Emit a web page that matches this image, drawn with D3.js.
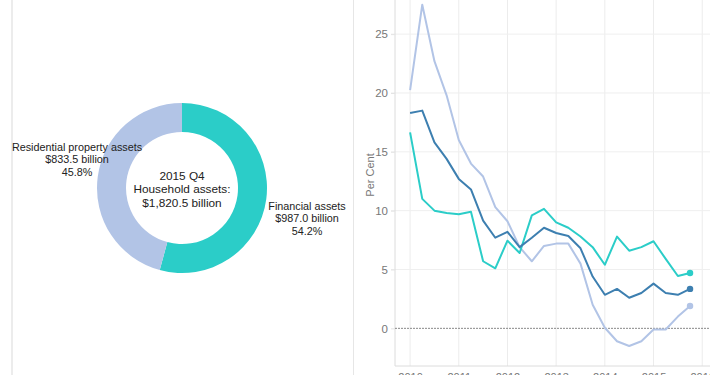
<!DOCTYPE html>
<html>
<head>
<meta charset="utf-8">
<script src="https://cdn.jsdelivr.net/npm/d3@7"></script>
<style>
  body { margin: 0; background: #fff; }
  svg { display: block; font-family: "Liberation Sans", Arial, sans-serif; }
</style>
</head>
<body>
<div id="chart"></div>
<script>
// donut data (2015 Q4, $ billion)
const assetNames = ["Financial assets", "Residential property assets"];
const assetValues = [987.0, 833.5];
const assetShares = ["54.2%", "45.8%"];
const assetTotal = "$1,820.5 billion";
const assetPeriod = "2015 Q4";

// quarterly growth, per cent, 2010 Q1 .. 2015 Q4
const quarters = d3.range(24).map(i => 2010 + i / 4);
const totalGrowth = [18.3, 18.5, 15.8, 14.4, 12.7, 11.8, 9.15, 7.7, 8.2, 6.9, 7.7, 8.55,
  8.1, 7.85, 6.8, 4.4, 2.85, 3.35, 2.6, 3.0, 3.8, 3.0, 2.85, 3.35];
const financialGrowth = [16.65, 11.0, 10.0, 9.8, 9.7, 9.9, 5.7, 5.1, 7.45, 6.4, 9.6, 10.15,
  9.0, 8.55, 7.8, 6.9, 5.4, 7.8, 6.6, 6.9, 7.4, 5.9, 4.45, 4.7];
const residentialGrowth = [20.25, 27.5, 22.7, 19.8, 16.0, 14.0, 12.9, 10.3, 9.1, 6.9, 5.7, 7.0,
  7.2, 7.2, 5.5, 2.0, 0.05, -1.1, -1.5, -1.1, -0.1, -0.1, 1.0, 1.9];
const yearTicks = [2010, 2011, 2012, 2013, 2014, 2015, 2016];
const yTicks = [0, 5, 10, 15, 20, 25];

const colTeal = "#2bcdc8";
const colLight = "#b2c4e6";
const colDark = "#3d7fb0";

const width = 710, height = 375;
const svg = d3.select("#chart").append("svg")
  .attr("width", width).attr("height", height);

// panel borders
svg.append("line").attr("x1", 12).attr("x2", 12).attr("y1", 0).attr("y2", height)
  .attr("stroke", "#ececec").attr("stroke-width", 2);
svg.append("line").attr("x1", 353.5).attr("x2", 353.5).attr("y1", 0).attr("y2", height)
  .attr("stroke", "#e6e6e6").attr("stroke-width", 1);

// ---- donut ----
const cx = 182, cy = 188;
const outerRadius = 85, innerRadius = 56;
const pie = d3.pie().sort(null).value(d => d);
const arc = d3.arc().innerRadius(innerRadius).outerRadius(outerRadius);
const donut = svg.append("g").attr("transform", `translate(${cx},${cy})`);
donut.selectAll("path").data(pie(assetValues)).enter().append("path")
  .attr("d", arc)
  .attr("fill", (d, i) => [colTeal, colLight][i]);

const centerLines = [assetPeriod, "Household assets:", assetTotal];
donut.append("text").attr("text-anchor", "middle").attr("font-size", 11.8).attr("fill", "#222")
  .selectAll("tspan").data(centerLines).enter().append("tspan")
  .attr("x", 0).attr("y", (d, i) => -8 + i * 13.3).text(d => d);

const fmt = v => "$" + d3.format(",.1f")(v) + " billion";
const labelPos = [[307, 210], [77, 151]];
assetNames.forEach((name, i) => {
  svg.append("text").attr("text-anchor", "middle").attr("font-size", 10.8).attr("fill", "#222")
    .selectAll("tspan").data([name, fmt(assetValues[i]), assetShares[i]]).enter().append("tspan")
    .attr("x", labelPos[i][0]).attr("y", (d, j) => labelPos[i][1] + j * 12.3).text(d => d);
});

// ---- line chart ----
const x = d3.scaleLinear().domain([2009.69, 2016.16]).range([395, 710]);
const y = d3.scaleLinear().domain([-3.2, 27.9]).range([366, 0]);

const grid = svg.append("g");
grid.selectAll(".vg").data(yearTicks).enter().append("line")
  .attr("x1", d => x(d)).attr("x2", d => x(d)).attr("y1", 0).attr("y2", 366)
  .attr("stroke", "#ececec");
grid.selectAll(".hg").data(yTicks.filter(d => d !== 0)).enter().append("line")
  .attr("x1", 391).attr("x2", 710).attr("y1", d => y(d)).attr("y2", d => y(d))
  .attr("stroke", "#efefef");

// frame: left and bottom
svg.append("line").attr("x1", 395).attr("x2", 395).attr("y1", 0).attr("y2", 366).attr("stroke", "#dcdcdc");
svg.append("line").attr("x1", 395).attr("x2", 710).attr("y1", 366).attr("y2", 366).attr("stroke", "#dcdcdc");

const yAxis = svg.append("g").attr("transform", "translate(395,0)")
  .call(d3.axisLeft(y).tickValues(yTicks).tickSize(4).tickPadding(3));
yAxis.select(".domain").remove();
yAxis.selectAll(".tick line").attr("stroke", "#e4e4e4");
yAxis.selectAll("text").attr("fill", "#777").attr("font-size", 11.5)
  .attr("font-family", "Liberation Sans, Arial, sans-serif");

const xAxis = svg.append("g").attr("transform", "translate(0,366)")
  .call(d3.axisBottom(x).tickValues(yearTicks).tickFormat(d3.format("d")).tickSize(0).tickPadding(7));
xAxis.select(".domain").remove();
xAxis.selectAll("text").attr("fill", "#777").attr("font-size", 11)
  .attr("font-family", "Liberation Sans, Arial, sans-serif");

svg.append("text").attr("transform", `translate(374,175) rotate(-90)`)
  .attr("text-anchor", "middle").attr("font-size", 11).attr("fill", "#777").text("Per Cent");

// zero line
svg.append("line").attr("x1", 395).attr("x2", 710).attr("y1", y(0)).attr("y2", y(0))
  .attr("stroke", "#888").attr("stroke-dasharray", "2,1");

const series = [
  { values: residentialGrowth, color: colLight },
  { values: financialGrowth, color: colTeal },
  { values: totalGrowth, color: colDark }
];
const line = d3.line().x((d, i) => x(quarters[i])).y(d => y(d));
series.forEach(s => {
  svg.append("path").datum(s.values).attr("d", line)
    .attr("fill", "none").attr("stroke", s.color).attr("stroke-width", 2)
    .attr("stroke-linejoin", "round");
  const last = s.values.length - 1;
  svg.append("circle").attr("cx", x(quarters[last])).attr("cy", y(s.values[last]))
    .attr("r", 3.2).attr("fill", s.color);
});
</script>
</body>
</html>
